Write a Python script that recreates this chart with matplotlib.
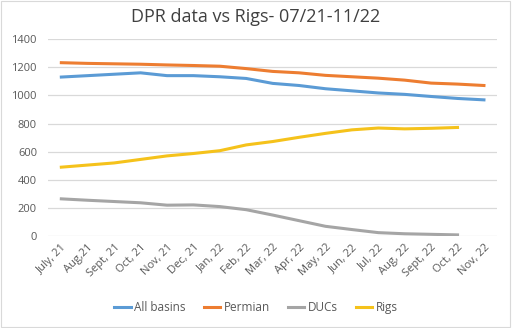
import numpy as np
import matplotlib.pyplot as plt

plt.rcParams['font.family'] = ['Open Sans', 'DejaVu Sans']

months = ["July, 21", "Aug,21", "Sept, 21", "Oct, 21", "Nov, 21", "Dec, 21",
          "Jan, 22", "Feb, 22", "Mar, 22", "Apr, 22", "May, 22", "Jun, 22",
          "Jul, 22", "Aug, 22", "Sept, 22", "Oct, 22", "Nov, 22"]

all_basins = [1130, 1140, 1150, 1160, 1140, 1140, 1132, 1120, 1085, 1070,
              1047, 1032, 1017, 1007, 992, 978, 968]
permian = [1232, 1227, 1224, 1221, 1216, 1212, 1207, 1190, 1170, 1160,
           1142, 1132, 1122, 1108, 1087, 1080, 1070]
ducs = [265, 255, 246, 237, 220, 222, 210, 188, 150, 110,
        70, 47, 25, 17, 13, 9]
rigs = [490, 505, 520, 545, 570, 587, 607, 648, 672, 702,
        730, 755, 768, 762, 766, 772]

fig = plt.figure(figsize=(5.12, 3.28), dpi=100)
ax = fig.add_axes([0.094, 0.28, 0.877, 0.601])

x = np.arange(len(months))
lw = 2.2
ax.plot(x, all_basins, color='#5B9BD5', lw=lw, label='All basins')
ax.plot(x, permian, color='#ED7D31', lw=lw, label='Permian')
ax.plot(x[:len(ducs)], ducs, color='#A5A5A5', lw=lw, label='DUCs')
ax.plot(x[:len(rigs)], rigs, color='#F5C21B', lw=lw, label='Rigs')

ax.set_xlim(-0.5, len(months) - 0.5)
ax.set_ylim(0, 1400)
ax.set_yticks(np.arange(0, 1401, 200))
ax.yaxis.grid(True, color='#D9D9D9', lw=0.9)
ax.set_axisbelow(True)
for s in ax.spines.values():
    s.set_visible(False)
ax.tick_params(length=0, colors='#595959', labelsize=8)
ax.tick_params(axis='y', pad=8)
ax.tick_params(axis='x', pad=4)
ax.set_xticks(x)
ax.set_xticklabels(months, rotation=45, ha='right', rotation_mode='anchor')

fig.suptitle('DPR data vs Rigs- 07/21-11/22', y=0.975, fontsize=13,
             color='#404040')
fig.legend(loc='center', bbox_to_anchor=(0.5, 0.062), ncol=4, frameon=False,
           fontsize=8.5, labelcolor='#595959', handlelength=1.4,
           handletextpad=0.3, columnspacing=1.5)

fig.add_artist(plt.Rectangle((0.002, 0.003), 0.995, 0.994, fill=False,
                             transform=fig.transFigure, ec='#D9D9D9', lw=0.8))
fig.savefig('out.png', dpi=100)
